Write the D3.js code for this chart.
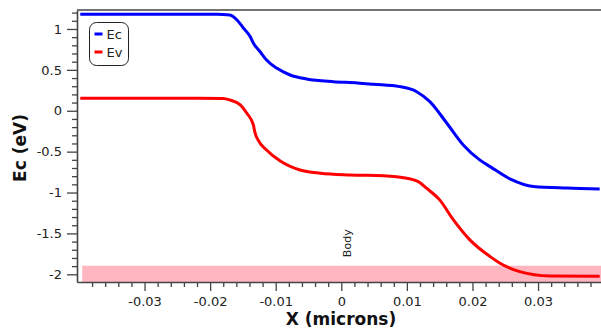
<!DOCTYPE html>
<html>
<head>
<meta charset="utf-8">
<script src="https://cdn.jsdelivr.net/npm/d3@7"></script>
<style>
  html, body { margin:0; padding:0; background:#fff; }
  svg { display:block; font-family:"DejaVu Sans", sans-serif; }
  .axis path, .axis line { stroke:#444; }
  .axis text { fill:#222; font-size:13px; font-family:"DejaVu Sans", sans-serif; }
</style>
</head>
<body>
<svg id="chart" width="601" height="331"></svg>
<script>
// ===== data =====
const ecX = [-0.0398, -0.030, -0.022, -0.0180, -0.0170, -0.0159, -0.0149, -0.0139, -0.0134, -0.0124, -0.0114, -0.0098, -0.0078, -0.0053, -0.0012, 0.0025, 0.0049, 0.0089, 0.0115, 0.0135, 0.0161, 0.0186, 0.0211, 0.0227, 0.0258, 0.0293, 0.0344, 0.0394];
const ecY = [1.18, 1.18, 1.18, 1.178, 1.171, 1.110, 1.009, 0.907, 0.826, 0.724, 0.621, 0.519, 0.437, 0.388, 0.355, 0.340, 0.324, 0.295, 0.233, 0.111, -0.153, -0.418, -0.601, -0.683, -0.837, -0.927, -0.946, -0.956];

const evX = [-0.0398, -0.030, -0.022, -0.0180, -0.0170, -0.0154, -0.0144, -0.0134, -0.0132, -0.0127, -0.0114, -0.0093, -0.0063, -0.0032, 0.0013, 0.0064, 0.0100, 0.0120, 0.0130, 0.0150, 0.0171, 0.0196, 0.0227, 0.0242, 0.0272, 0.0318, 0.0394];
const evY = [0.153, 0.153, 0.153, 0.150, 0.132, 0.071, -0.031, -0.174, -0.256, -0.357, -0.479, -0.614, -0.724, -0.764, -0.785, -0.794, -0.825, -0.880, -0.947, -1.090, -1.335, -1.579, -1.784, -1.864, -1.967, -2.020, -2.025];

const xTicks = [-0.03, -0.02, -0.01, 0, 0.01, 0.02, 0.03];
const xTickLabels = ['-0.03', '-0.02', '-0.01', '0', '0.01', '0.02', '0.03'];
const yTicks = [-2, -1.5, -1, -0.5, 0, 0.5, 1];
const yTickLabels = ['-2', '-1.5', '-1', '-0.5', '0', '0.5', '1'];

// region band ("Body")
const bandX = [-0.0395, 0.0396];
const bandY = [-2.094, -1.895];
const bandLabel = 'Body';
const bandLabelX = 0.0009;

const series = [
  {name:'Ec', color:'#0000ff', xs:ecX, ys:ecY},
  {name:'Ev', color:'#ff0000', xs:evX, ys:evY}
];

// ===== layout =====
const svg = d3.select('#chart');
const M = {left:77, right:601, top:10, bottom:282};

const x = d3.scaleLinear().domain([-0.0403, 0.0396]).range([M.left, M.right]);
const y = d3.scaleLinear().domain([-2.094, 1.232]).range([M.bottom, M.top]);

// band
svg.append('rect')
  .attr('x', x(bandX[0])).attr('width', x(bandX[1]) - x(bandX[0]))
  .attr('y', y(bandY[1])).attr('height', y(bandY[0]) - y(bandY[1]))
  .attr('fill', '#ffb6c1');

svg.append('text')
  .attr('transform', `translate(${x(bandLabelX)+4},${y(-1.62)}) rotate(-90)`)
  .attr('text-anchor','middle')
  .style('font-size','11px')
  .attr('fill','#222')
  .text(bandLabel);

// minor ticks
const yMinor = d3.range(-20, 13).map(i => i/10).filter(v => !yTicks.some(t => Math.abs(t-v) < 1e-9));
const xMinor = d3.range(-19, 20).map(i => i*0.002).filter(v => !xTicks.some(t => Math.abs(t-v) < 1e-9));

svg.append('g').attr('class','axis')
  .attr('transform', `translate(${M.left},0)`)
  .call(d3.axisLeft(y).tickValues(yMinor).tickSize(5).tickFormat('').tickSizeOuter(0))
  .call(g => g.select('.domain').remove());

svg.append('g').attr('class','axis')
  .attr('transform', `translate(0,${M.bottom})`)
  .call(d3.axisBottom(x).tickValues(xMinor).tickSize(5).tickFormat('').tickSizeOuter(0))
  .call(g => g.select('.domain').remove());

// major axes
svg.append('g').attr('class','axis')
  .attr('transform', `translate(${M.left},0)`)
  .call(d3.axisLeft(y).tickValues(yTicks).tickSize(10).tickPadding(5).tickSizeOuter(0)
    .tickFormat((d,i) => yTickLabels[i]));

svg.append('g').attr('class','axis')
  .attr('transform', `translate(0,${M.bottom})`)
  .call(d3.axisBottom(x).tickValues(xTicks).tickSize(9).tickPadding(6).tickSizeOuter(0)
    .tickFormat((d,i) => xTickLabels[i]));

svg.selectAll('.axis .domain').attr('stroke-width', 1.6);
svg.selectAll('.axis line').attr('stroke-width', 1.3);

// top border
svg.append('line')
  .attr('x1', M.left).attr('x2', M.right)
  .attr('y1', M.top).attr('y2', M.top)
  .attr('stroke', '#444').attr('stroke-width', 1.3);

// lines
const line = d3.line()
  .x(d => x(d[0]))
  .y(d => y(d[1]))
  .curve(d3.curveMonotoneX);

series.forEach(s => {
  svg.append('path')
    .datum(s.xs.map((v,i) => [v, s.ys[i]]))
    .attr('fill','none')
    .attr('stroke', s.color)
    .attr('stroke-width', 3)
    .attr('stroke-linejoin','round')
    .attr('d', line);
});

// axis titles
svg.append('text')
  .attr('x', 341).attr('y', 325)
  .attr('text-anchor','middle')
  .style('font-size','17px').style('font-weight','bold')
  .attr('fill','#111')
  .text('X (microns)');

svg.append('text')
  .attr('transform', 'translate(26,148) rotate(-90)')
  .attr('text-anchor','middle')
  .style('font-size','17px').style('font-weight','bold')
  .attr('fill','#111')
  .text('Ec (eV)');

// legend
const lg = svg.append('g').attr('transform','translate(89.5,22.5)');
lg.append('rect')
  .attr('width', 39).attr('height', 43).attr('rx', 7)
  .attr('fill','#fff').attr('stroke','#222').attr('stroke-width',1);
series.forEach((s,i) => {
  const yy = 11.5 + i*18;
  lg.append('line')
    .attr('x1', 5).attr('x2', 13).attr('y1', yy).attr('y2', yy)
    .attr('stroke', s.color).attr('stroke-width', 3);
  lg.append('text')
    .attr('x', 17).attr('y', yy).attr('dy','0.35em')
    .style('font-size','13px').attr('fill','#222')
    .text(s.name);
});
</script>
</body>
</html>
